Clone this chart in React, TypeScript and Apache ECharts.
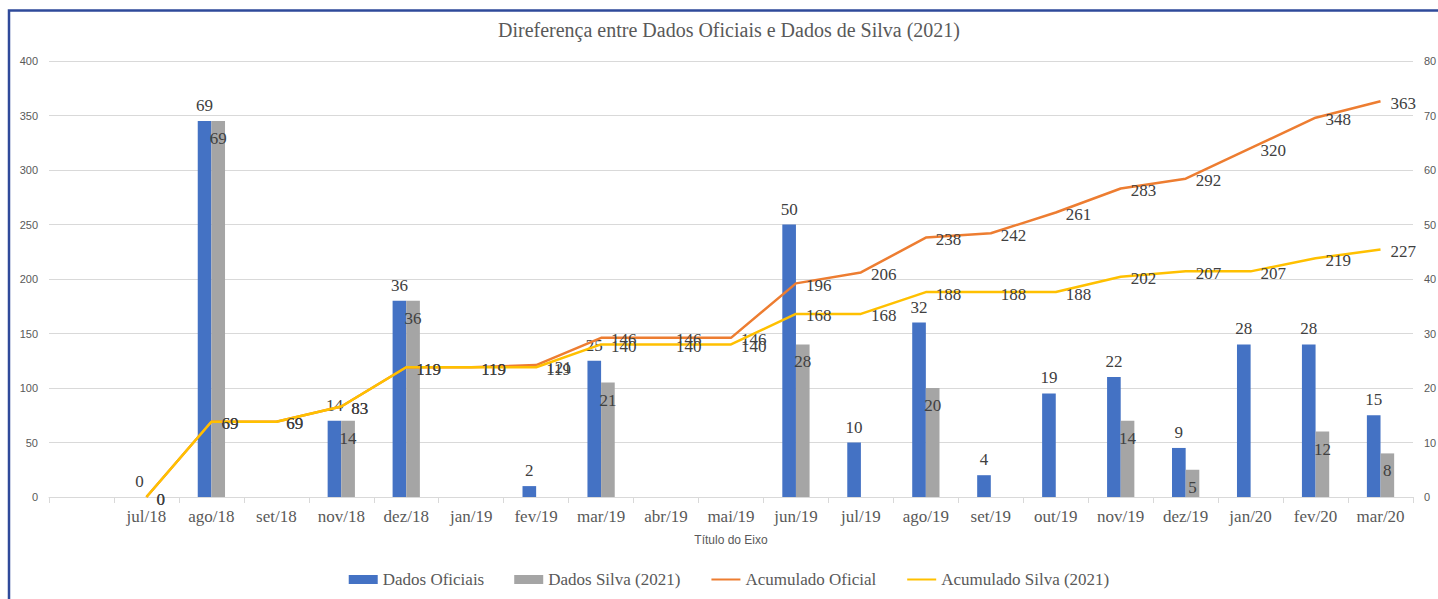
import React, { useEffect, useRef } from "react";
import * as echarts from "echarts";

const categories = ["", "jul/18", "ago/18", "set/18", "nov/18", "dez/18", "jan/19", "fev/19", "mar/19", "abr/19", "mai/19", "jun/19", "jul/19", "ago/19", "set/19", "out/19", "nov/19", "dez/19", "jan/20", "fev/20", "mar/20"];
const dadosOficiais = [null, 0, 69, null, 14, 36, null, 2, 25, null, null, 50, 10, 32, 4, 19, 22, 9, 28, 28, 15];
const dadosSilva = [null, 0, 69, null, 14, 36, null, null, 21, null, null, 28, null, 20, null, null, 14, 5, null, 12, 8];
const acumuladoOficial = [null, 0, 69, 69, 83, 119, 119, 121, 146, 146, 146, 196, 206, 238, 242, 261, 283, 292, 320, 348, 363];
const acumuladoSilva = [null, 0, 69, 69, 83, 119, 119, 119, 140, 140, 140, 168, 168, 188, 188, 188, 202, 207, 207, 219, 227];
const leftTicks = { min: 0, max: 400, interval: 50 };
const rightTicks = { min: 0, max: 80, interval: 10 };

const SERIF = "'Liberation Serif', 'Times New Roman', serif";
const SANS = "'Liberation Sans', Arial, sans-serif";
const LABEL_COLOR = "#404040";
const AXIS_COLOR = "#595959";

export default function App() {
  const ref = useRef<HTMLDivElement>(null);
  useEffect(() => {
    document.body.style.margin = "0";
    if (!ref.current) return;
    const chart = echarts.init(ref.current, null, { renderer: "svg" });
    const lineLabel = {
      show: true,
      position: "right" as const,
      distance: 10,
      offset: [0, 2],
      color: LABEL_COLOR,
      fontFamily: SERIF,
      fontSize: 17,
    };
    chart.setOption({
      animation: false,
      backgroundColor: "#ffffff",
      title: {
        text: "Direferença entre Dados Oficiais e Dados de Silva (2021)",
        left: "center",
        top: 15,
        textStyle: { fontFamily: SERIF, fontSize: 20, fontWeight: "normal", color: AXIS_COLOR },
      },
      graphic: [
        {
          type: "rect",
          shape: { x: 9, y: 10.5, width: 1460, height: 620 },
          style: { fill: "none", stroke: "#2F4A9A", lineWidth: 2.5 },
          silent: true,
          z: 100,
        },
      ],
      legend: {
        top: 566,
        left: "center",
        itemWidth: 29,
        itemHeight: 9,
        itemGap: 30,
        textStyle: { fontFamily: SERIF, fontSize: 17, color: AXIS_COLOR },
        data: [
          { name: "Dados Oficiais", icon: "rect" },
          { name: "Dados Silva (2021)", icon: "rect" },
          { name: "Acumulado Oficial", itemStyle: { opacity: 0 } },
          { name: "Acumulado Silva (2021)", itemStyle: { opacity: 0 } },
        ],
      },
      grid: { left: 49, right: 45, top: 61, bottom: 102, containLabel: false },
      xAxis: {
        type: "category",
        data: categories,
        boundaryGap: true,
        name: "Título do Eixo",
        nameLocation: "middle",
        nameGap: 37,
        nameTextStyle: { fontFamily: SANS, fontSize: 12, color: AXIS_COLOR },
        axisLine: { show: true, lineStyle: { color: "#d9d9d9", width: 1 } },
        axisTick: { show: true, length: 6, lineStyle: { color: "#d9d9d9" } },
        axisLabel: { interval: 0, margin: 11, fontFamily: SERIF, fontSize: 17, color: AXIS_COLOR },
      },
      yAxis: [
        {
          type: "value",
          ...leftTicks,
          axisLine: { show: false },
          axisTick: { show: false },
          axisLabel: { margin: 11, fontFamily: SANS, fontSize: 11, color: AXIS_COLOR },
          splitLine: { show: true, lineStyle: { color: "#d9d9d9", width: 1 } },
        },
        {
          type: "value",
          ...rightTicks,
          axisLine: { show: false },
          axisTick: { show: false },
          axisLabel: { margin: 11, fontFamily: SANS, fontSize: 11, color: AXIS_COLOR },
          splitLine: { show: false },
        },
      ],
      series: [
        {
          name: "Dados Oficiais",
          type: "bar",
          yAxisIndex: 1,
          data: dadosOficiais,
          barGap: "0%",
          barCategoryGap: "58%",
          itemStyle: { color: "#4472C4" },
          label: { show: true, position: "top", distance: 7, color: LABEL_COLOR, fontFamily: SERIF, fontSize: 17 },
        },
        {
          name: "Dados Silva (2021)",
          type: "bar",
          yAxisIndex: 1,
          data: dadosSilva.map((v) => (v === 0 ? { value: v, label: { show: false } } : v)),
          barGap: "0%",
          barCategoryGap: "58%",
          itemStyle: { color: "#A5A5A5" },
          label: { show: true, position: "insideTop", distance: 9, color: LABEL_COLOR, fontFamily: SERIF, fontSize: 17 },
        },
        {
          name: "Acumulado Oficial",
          type: "line",
          yAxisIndex: 0,
          data: acumuladoOficial,
          symbol: "circle",
          symbolSize: 0,
          showSymbol: true,
          lineStyle: { color: "#ED7D31", width: 2.5 },
          itemStyle: { color: "#ED7D31" },
          label: lineLabel,
          z: 3,
        },
        {
          name: "Acumulado Silva (2021)",
          type: "line",
          yAxisIndex: 0,
          data: acumuladoSilva,
          symbol: "circle",
          symbolSize: 0,
          showSymbol: true,
          lineStyle: { color: "#FFC000", width: 2.5 },
          itemStyle: { color: "#FFC000" },
          label: lineLabel,
          z: 4,
        },
      ],
    });
    return () => chart.dispose();
  }, []);
  return (
    <div style={{ width: 1438, height: 599, overflow: "hidden", position: "relative" }}>
      <div ref={ref} style={{ width: 1458, height: 599 }} />
    </div>
  );
}
